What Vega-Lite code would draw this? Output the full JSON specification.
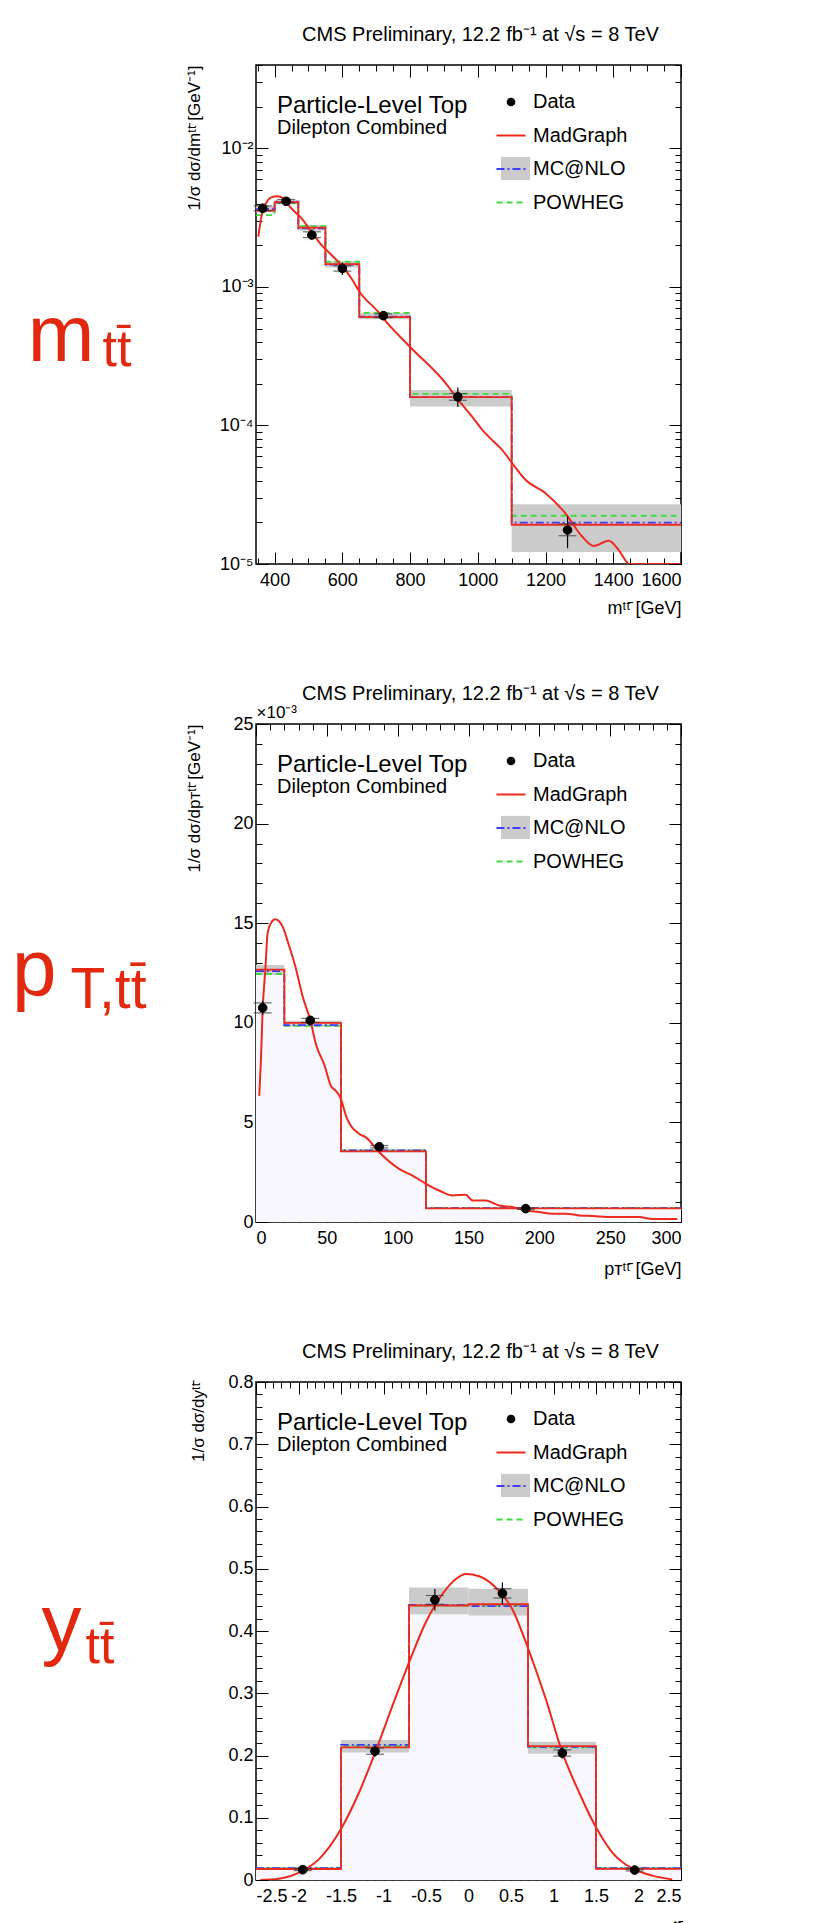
{
"$schema":"https://vega.github.io/schema/vega-lite/v6.json",
"padding":{"left":10,"top":23,"right":0,"bottom":0},
"config":{"view":{"stroke":"black","strokeWidth":1.5},"font":"Liberation Sans",
"axis":{"grid":false,"domain":false,"labelFont":"Liberation Sans","labelFontSize":18,"labelColor":"black","tickColor":"black","tickWidth":1,"titleFont":"Liberation Sans","titleFontWeight":"normal","titleColor":"black"}},
"datasets":{
"m_hist":[
{"lo":345,"hi":400,"mad":0.00355,"mc":0.00364,"pow":0.0033,"bLo":0.00345,"bHi":0.00385},
{"lo":400,"hi":470,"mad":0.0041,"mc":0.00412,"pow":0.00405,"bLo":0.00395,"bHi":0.00425},
{"lo":470,"hi":550,"mad":0.00268,"mc":0.00265,"pow":0.00275,"bLo":0.00255,"bHi":0.0028},
{"lo":550,"hi":650,"mad":0.00146,"mc":0.00145,"pow":0.00152,"bLo":0.00138,"bHi":0.00153},
{"lo":650,"hi":800,"mad":0.000606,"mc":0.00061,"pow":0.00065,"bLo":0.000585,"bHi":0.00065},
{"lo":800,"hi":1100,"mad":0.00016,"mc":0.00016,"pow":0.000169,"bLo":0.000137,"bHi":0.00018},
{"lo":1100,"hi":1600,"mad":0.0000192,"mc":0.0000199,"pow":0.0000223,"bLo":0.0000122,"bHi":0.000027},
{"lo":1600,"hi":null,"mad":0.0000192,"mc":0.0000199,"pow":0.0000223,"bLo":null,"bHi":null}],
"m_pts":[
{"x":365,"y":0.0037,"lo":0.00345,"hi":0.00395,"sLo":0.00355,"sHi":0.00385},
{"x":434,"y":0.00415,"lo":0.0039,"hi":0.0044,"sLo":0.00402,"sHi":0.00428},
{"x":510,"y":0.00237,"lo":0.0022,"hi":0.0026,"sLo":0.00227,"sHi":0.0025},
{"x":600,"y":0.00136,"lo":0.00122,"hi":0.0015,"sLo":0.0013,"sHi":0.00142},
{"x":721,"y":0.00062,"lo":0.00058,"hi":0.00066,"sLo":0.0006,"sHi":0.00064},
{"x":941,"y":0.000161,"lo":0.000136,"hi":0.000188,"sLo":0.000152,"sHi":0.00017},
{"x":1265,"y":0.0000176,"lo":0.000013,"hi":0.000022,"sLo":0.000016,"sHi":0.0000195}],
"m_curve":[
{"x":352,"y":0.00231},{"x":360,"y":0.00314},{"x":375,"y":0.00403},{"x":390,"y":0.00443},{"x":408,"y":0.00452},{"x":425,"y":0.00438},{"x":449,"y":0.0037},{"x":479,"y":0.00314},{"x":508,"y":0.00251},{"x":538,"y":0.00201},{"x":568,"y":0.0017},{"x":597,"y":0.00144},{"x":627,"y":0.00115},{"x":651,"y":0.00092},{"x":706,"y":0.00066},{"x":726,"y":0.000574},{"x":801,"y":0.000367},{"x":903,"y":0.000205},{"x":952,"y":0.000143},{"x":982,"y":0.000117},{"x":1010,"y":0.000095},{"x":1041,"y":0.000079},{"x":1071,"y":0.000067},{"x":1100,"y":0.000054},{"x":1140,"y":0.0000407},{"x":1199,"y":0.0000326},{"x":1258,"y":0.0000233},{"x":1308,"y":0.0000158},{"x":1342,"y":0.0000135},{"x":1387,"y":0.0000147},{"x":1416,"y":0.0000126},{"x":1448,"y":0.00001},{"x":1600,"y":0.00001}],
"pt_hist":[
{"lo":0,"hi":20,"mad":0.01267,"mc":0.0126,"pow":0.01245,"bLo":0.0124,"bHi":0.0129},
{"lo":20,"hi":60,"mad":0.01,"mc":0.00988,"pow":0.00985,"bLo":0.0098,"bHi":0.0101},
{"lo":60,"hi":120,"mad":0.00355,"mc":0.0036,"pow":0.0036,"bLo":0.0035,"bHi":0.00365},
{"lo":120,"hi":300,"mad":0.00068,"mc":0.0007,"pow":0.00071,"bLo":0.00066,"bHi":0.00072},
{"lo":300,"hi":null,"mad":0.00068,"mc":0.0007,"pow":0.00071,"bLo":null,"bHi":null}],
"pt_pts":[
{"x":4.7,"y":0.01075,"lo":0.0104,"hi":0.0111,"sLo":0.0105,"sHi":0.011},
{"x":38.3,"y":0.01012,"lo":0.0099,"hi":0.01035,"sLo":0.01002,"sHi":0.01022},
{"x":87,"y":0.00378,"lo":0.00366,"hi":0.0039,"sLo":0.00372,"sHi":0.00384},
{"x":190.4,"y":0.00067,"lo":0.00062,"hi":0.00072,"sLo":0.00064,"sHi":0.0007}],
"pt_curve":[
{"x":2.3,"y":0.00633},{"x":3.5,"y":0.00817},{"x":4.7,"y":0.01067},{"x":6.6,"y":0.01267},{"x":8.2,"y":0.0145},{"x":10.5,"y":0.015},{"x":13.6,"y":0.0152},{"x":18.8,"y":0.01483},{"x":23.5,"y":0.01383},{"x":27.5,"y":0.0129},{"x":32.9,"y":0.01133},{"x":38.8,"y":0.01},{"x":42.3,"y":0.00892},{"x":48.2,"y":0.0079},{"x":52.9,"y":0.00683},{"x":56.4,"y":0.00658},{"x":60,"y":0.00617},{"x":63.5,"y":0.00533},{"x":72.9,"y":0.00442},{"x":77.6,"y":0.00425},{"x":87,"y":0.0035},{"x":101,"y":0.00267},{"x":110.5,"y":0.00233},{"x":120,"y":0.00192},{"x":129.3,"y":0.00158},{"x":138.7,"y":0.00133},{"x":148.1,"y":0.00137},{"x":152.8,"y":0.00108},{"x":162.2,"y":0.00108},{"x":171.6,"y":0.00083},{"x":181,"y":0.00075},{"x":190.4,"y":0.00058},{"x":199.8,"y":0.0005},{"x":209.2,"y":0.00042},{"x":218.6,"y":0.00042},{"x":228,"y":0.00033},{"x":237.5,"y":0.0003},{"x":251.5,"y":0.00025},{"x":270.4,"y":0.00025},{"x":279.8,"y":0.00015},{"x":297.4,"y":0.00015}],
"y_hist":[
{"lo":-2.5,"hi":-1.5,"mad":0.0177,"mc":0.019,"pow":0.019,"bLo":0.016,"bHi":0.021},
{"lo":-1.5,"hi":-0.7,"mad":0.213,"mc":0.217,"pow":0.215,"bLo":0.205,"bHi":0.225},
{"lo":-0.7,"hi":0,"mad":0.441,"mc":0.442,"pow":0.441,"bLo":0.427,"bHi":0.47},
{"lo":0,"hi":0.7,"mad":0.443,"mc":0.44,"pow":0.441,"bLo":0.425,"bHi":0.468},
{"lo":0.7,"hi":1.5,"mad":0.215,"mc":0.214,"pow":0.213,"bLo":0.203,"bHi":0.222},
{"lo":1.5,"hi":2.5,"mad":0.018,"mc":0.019,"pow":0.019,"bLo":0.016,"bHi":0.021},
{"lo":2.5,"hi":null,"mad":0.018,"mc":0.019,"pow":0.019,"bLo":null,"bHi":null}],
"y_pts":[
{"x":-1.95,"y":0.0166,"lo":0.0136,"hi":0.0196,"sLo":0.0151,"sHi":0.0181},
{"x":-1.1,"y":0.207,"lo":0.198,"hi":0.216,"sLo":0.202,"sHi":0.212},
{"x":-0.396,"y":0.45,"lo":0.433,"hi":0.4675,"sLo":0.443,"sHi":0.457},
{"x":0.399,"y":0.4605,"lo":0.442,"hi":0.478,"sLo":0.453,"sHi":0.468},
{"x":1.104,"y":0.204,"lo":0.195,"hi":0.213,"sLo":0.199,"sHi":0.209},
{"x":1.955,"y":0.016,"lo":0.013,"hi":0.019,"sLo":0.0145,"sHi":0.0175}],
"y_curve":[
{"x":-2.45,"y":0.0},{"x":-2.23,"y":0.002},{"x":-1.95,"y":0.015},{"x":-1.756,"y":0.034},{"x":-1.5,"y":0.082},{"x":-1.286,"y":0.141},{"x":-1.09,"y":0.2077},{"x":-0.894,"y":0.28},{"x":-0.698,"y":0.35},{"x":-0.502,"y":0.414},{"x":-0.306,"y":0.4594},{"x":-0.149,"y":0.4835},{"x":-0.031,"y":0.4916},{"x":0.125,"y":0.488},{"x":0.32,"y":0.47},{"x":0.516,"y":0.435},{"x":0.704,"y":0.371},{"x":0.909,"y":0.291},{"x":1.104,"y":0.205},{"x":1.3,"y":0.141},{"x":1.5,"y":0.0847},{"x":1.69,"y":0.0445},{"x":1.96,"y":0.0166},{"x":2.162,"y":0.007},{"x":2.397,"y":0.001}]
},
"bounds":"flush","spacing":160,
"resolve":{"scale":{"color":"independent","fill":"independent","stroke":"independent"}},
"vconcat":[
{"width":425,"height":499,
"resolve":{"axis":{"x":"independent","y":"independent"}},
"layer":[
{"data":{"name":"m_hist"},"mark":{"type":"area","interpolate":"step-after","clip":true},
"encoding":{
"x":{"field":"lo","type":"quantitative","scale":{"domain":[345,1600],"nice":false,"zero":false},"axis":{"orient":"bottom","values":[400,600,800,1000,1200,1400,1600],"format":"d","tickSize":-12,"labelPadding":19,"title":"mᵗᵗ̄ [GeV]","titleFontSize":18,"titleX":425,"titleY":49,"titleAlign":"right","titleBaseline":"alphabetic"}},
"y":{"field":"mad","type":"quantitative","scale":{"type":"log","domain":[0.00001,0.04],"nice":false},"axis":{"orient":"left","values":[0.00001,0.0001,0.001,0.01],"tickSize":-12,"labelPadding":15,"labelExpr":"'10' + (datum.value < 0.00005 ? '⁻⁵' : datum.value < 0.0005 ? '⁻⁴' : datum.value < 0.005 ? '⁻³' : '⁻²')","title":"1/σ dσ/dmᵗᵗ̄ [GeV⁻¹]","titleFontSize":17,"titleX":-62,"titleY":0,"titleAngle":-90,"titleAlign":"right","titleBaseline":"middle"}},
"color":{"datum":"Dilepton Combined","scale":{"range":["#f7f7fd"]},"legend":{"orient":"none","legendX":21,"legendY":29,"title":"Particle-Level Top","titleFontSize":24,"titleFont":"Liberation Sans","titleFontWeight":"normal","titleColor":"black","titleLimit":500,"titlePadding":0,"labelFontSize":20,"labelFont":"Liberation Sans","labelColor":"black","labelLimit":500,"labelOffset":-20,"symbolSize":0,"symbolOpacity":0,"padding":0}}}},
{"data":{"name":"m_hist"},"transform":[{"filter":"datum.hi != null"}],"mark":{"type":"rect"},
"encoding":{
"x":{"field":"lo","type":"quantitative","axis":{"orient":"bottom","values":[350,450,500,550,650,700,750,850,900,950,1050,1100,1150,1250,1300,1350,1450,1500,1550],"tickSize":-6,"labels":false,"title":null}},
"x2":{"field":"hi"},
"y":{"field":"bLo","type":"quantitative","axis":{"orient":"left","values":[0.00002,0.00003,0.00004,0.00005,0.00006,0.00007,0.00008,0.00009,0.0002,0.0003,0.0004,0.0005,0.0006,0.0007,0.0008,0.0009,0.002,0.003,0.004,0.005,0.006,0.007,0.008,0.009,0.02,0.03,0.04],"tickSize":-6,"labels":false,"title":null}},
"y2":{"field":"bHi"},
"fill":{"datum":"MC@NLO","scale":{"range":["#cbcbcb"]},"legend":{"orient":"none","legendX":245,"legendY":89,"title":null,"symbolType":"M-1,-0.8H1V0.8H-1Z","symbolSize":841,"symbolStrokeWidth":0,"labelExpr":"''","padding":0}}}},
{"data":{"name":"m_hist"},"mark":{"type":"line","interpolate":"step-after","strokeDash":[6,4],"strokeWidth":1.8,"clip":true},
"encoding":{
"x":{"field":"lo","type":"quantitative","axis":{"orient":"top","values":[400,600,800,1000,1200,1400,1600],"tickSize":-12,"labels":false,"title":"CMS Preliminary, 12.2 fb⁻¹ at √s =  8 TeV","titleFontSize":20,"titleX":224,"titleY":-25,"titleAlign":"center","titleBaseline":"alphabetic"}},
"y":{"field":"pow","type":"quantitative","axis":{"orient":"right","values":[0.00001,0.0001,0.001,0.01],"tickSize":-12,"labels":false,"title":null}},
"stroke":{"datum":"POWHEG","scale":{"domain":["Data","MadGraph","MC@NLO","POWHEG"],"range":["black","#ee2a1f","#3b3bff","#3fdc3f"]},"legend":{"orient":"none","legendX":245,"legendY":27,"title":null,"labelFontSize":20,"labelFont":"Liberation Sans","labelColor":"black","labelOffset":12,"labelLimit":300,"symbolSize":841,"symbolStrokeWidth":2,"rowPadding":13.5,"padding":0,
"encode":{"symbols":{"update":{"shape":{"signal":"datum.value === 'Data' ? 'circle' : 'stroke'"},"size":{"signal":"datum.value === 'Data' ? 75 : 841"},"fill":{"signal":"datum.value === 'Data' ? 'black' : 'transparent'"},"stroke":{"signal":"datum.value === 'Data' ? 'black' : datum.value === 'MadGraph' ? '#ee2a1f' : datum.value === 'MC@NLO' ? '#3b3bff' : '#3fdc3f'"},"strokeWidth":{"signal":"datum.value === 'Data' ? 0 : 2"},"strokeDash":{"signal":"datum.value === 'POWHEG' ? [6,4] : datum.value === 'MC@NLO' ? [8,3,2,3] : [1,0]"},"opacity":{"value":1}}}}}}}},
{"data":{"name":"m_hist"},"mark":{"type":"line","interpolate":"step-after","strokeDash":[8,3,2,3],"strokeWidth":1.8,"clip":true},
"encoding":{
"x":{"field":"lo","type":"quantitative","axis":{"orient":"top","values":[350,450,500,550,650,700,750,850,900,950,1050,1100,1150,1250,1300,1350,1450,1500,1550],"tickSize":-6,"labels":false,"title":null}},
"y":{"field":"mc","type":"quantitative","axis":{"orient":"right","values":[0.00002,0.00003,0.00004,0.00005,0.00006,0.00007,0.00008,0.00009,0.0002,0.0003,0.0004,0.0005,0.0006,0.0007,0.0008,0.0009,0.002,0.003,0.004,0.005,0.006,0.007,0.008,0.009,0.02,0.03,0.04],"tickSize":-6,"labels":false,"title":null}},
"stroke":{"datum":"MC@NLO"}}},
{"data":{"name":"m_hist"},"mark":{"type":"line","interpolate":"step-after","strokeWidth":1.8,"clip":true},
"encoding":{"x":{"field":"lo","type":"quantitative","axis":null},"y":{"field":"mad","type":"quantitative","axis":{"orient":"left","ticks":false,"labels":false,"title":"m","titleFontSize":80,"titleColor":"#e2290f","titleAngle":0,"titleX":-162,"titleY":295,"titleAlign":"right","titleBaseline":"alphabetic"}},"stroke":{"datum":"MadGraph"}}},
{"data":{"name":"m_curve"},"mark":{"type":"line","interpolate":"monotone","strokeWidth":2,"clip":true},
"encoding":{"x":{"field":"x","type":"quantitative","axis":null},"y":{"field":"y","type":"quantitative","axis":{"orient":"left","ticks":false,"labels":false,"title":"tt̄","titleFontSize":52,"titleColor":"#e2290f","titleAngle":0,"titleX":-125,"titleY":300,"titleAlign":"right","titleBaseline":"alphabetic"}},"stroke":{"datum":"MadGraph"}}},
{"data":{"name":"m_pts"},"mark":{"type":"rule","color":"black","strokeWidth":1.2},
"encoding":{"x":{"field":"x","type":"quantitative","axis":null},"y":{"field":"lo","type":"quantitative","axis":null},"y2":{"field":"hi"}}},
{"data":{"name":"m_pts"},"mark":{"type":"tick","orient":"horizontal","size":18,"thickness":1.2,"color":"#333333"},
"encoding":{"x":{"field":"x","type":"quantitative","axis":null},"y":{"field":"sLo","type":"quantitative","axis":null}}},
{"data":{"name":"m_pts"},"mark":{"type":"tick","orient":"horizontal","size":18,"thickness":1.2,"color":"#333333"},
"encoding":{"x":{"field":"x","type":"quantitative","axis":null},"y":{"field":"sHi","type":"quantitative","axis":null}}},
{"data":{"name":"m_pts"},"mark":{"type":"point","filled":true,"size":75,"fill":"black","strokeWidth":1,"opacity":1},
"encoding":{"x":{"field":"x","type":"quantitative","axis":null},"y":{"field":"y","type":"quantitative","axis":null},"stroke":{"datum":"Data"}}}
]},
{"width":425,"height":498,
"resolve":{"axis":{"x":"independent","y":"independent"}},
"layer":[
{"data":{"name":"pt_hist"},"mark":{"type":"area","interpolate":"step-after","clip":true},
"encoding":{
"x":{"field":"lo","type":"quantitative","scale":{"domain":[0,300],"nice":false},"axis":{"orient":"bottom","values":[0,50,100,150,200,250,300],"format":"d","tickSize":-12,"labelPadding":19,"title":"pᴛᵗᵗ̄ [GeV]","titleFontSize":18,"titleX":425,"titleY":52,"titleAlign":"right","titleBaseline":"alphabetic"}},
"y":{"field":"mad","type":"quantitative","scale":{"domain":[0,0.025],"nice":false},"axis":{"orient":"left","values":[0,0.005,0.01,0.015,0.02,0.025],"tickSize":-12,"labelPadding":15,"labelExpr":"format(datum.value*1000, 'd')","title":"1/σ dσ/dpᴛᵗᵗ̄ [GeV⁻¹]","titleFontSize":17,"titleX":-62,"titleY":0,"titleAngle":-90,"titleAlign":"right","titleBaseline":"middle"}},
"color":{"datum":"Dilepton Combined","scale":{"range":["#f7f7fd"]},"legend":{"orient":"none","legendX":21,"legendY":29,"title":"Particle-Level Top","titleFontSize":24,"titleFont":"Liberation Sans","titleFontWeight":"normal","titleColor":"black","titleLimit":500,"titlePadding":0,"labelFontSize":20,"labelFont":"Liberation Sans","labelColor":"black","labelLimit":500,"labelOffset":-20,"symbolSize":0,"symbolOpacity":0,"padding":0}}}},
{"data":{"name":"pt_hist"},"transform":[{"filter":"datum.hi != null"}],"mark":{"type":"rect"},
"encoding":{
"x":{"field":"lo","type":"quantitative","axis":{"orient":"bottom","values":[10,20,30,40,60,70,80,90,110,120,130,140,160,170,180,190,210,220,230,240,260,270,280,290],"tickSize":-6,"labels":false,"title":null}},
"x2":{"field":"hi"},
"y":{"field":"bLo","type":"quantitative","axis":{"orient":"left","values":[0.001,0.002,0.003,0.004,0.006,0.007,0.008,0.009,0.011,0.012,0.013,0.014,0.016,0.017,0.018,0.019,0.021,0.022,0.023,0.024],"tickSize":-6,"labels":false,"title":null}},
"y2":{"field":"bHi"},
"fill":{"datum":"MC@NLO","scale":{"range":["#cbcbcb"]},"legend":{"orient":"none","legendX":245,"legendY":89,"title":null,"symbolType":"M-1,-0.8H1V0.8H-1Z","symbolSize":841,"symbolStrokeWidth":0,"labelExpr":"''","padding":0}}}},
{"data":{"name":"pt_hist"},"mark":{"type":"line","interpolate":"step-after","strokeDash":[6,4],"strokeWidth":1.8,"clip":true},
"encoding":{
"x":{"field":"lo","type":"quantitative","axis":{"orient":"top","values":[0,50,100,150,200,250,300],"tickSize":-12,"labels":false,"title":"CMS Preliminary, 12.2 fb⁻¹ at √s =  8 TeV","titleFontSize":20,"titleX":224,"titleY":-25,"titleAlign":"center","titleBaseline":"alphabetic"}},
"y":{"field":"pow","type":"quantitative","axis":{"orient":"right","values":[0,0.005,0.01,0.015,0.02,0.025],"tickSize":-12,"labels":false,"title":"×10⁻³","titleFontSize":17,"titleAngle":0,"titleX":-425,"titleY":-3,"titleAlign":"left","titleBaseline":"bottom"}},
"stroke":{"datum":"POWHEG","scale":{"domain":["Data","MadGraph","MC@NLO","POWHEG"],"range":["black","#ee2a1f","#3b3bff","#3fdc3f"]},"legend":{"orient":"none","legendX":245,"legendY":27,"title":null,"labelFontSize":20,"labelFont":"Liberation Sans","labelColor":"black","labelOffset":12,"labelLimit":300,"symbolSize":841,"symbolStrokeWidth":2,"rowPadding":13.5,"padding":0,
"encode":{"symbols":{"update":{"shape":{"signal":"datum.value === 'Data' ? 'circle' : 'stroke'"},"size":{"signal":"datum.value === 'Data' ? 75 : 841"},"fill":{"signal":"datum.value === 'Data' ? 'black' : 'transparent'"},"stroke":{"signal":"datum.value === 'Data' ? 'black' : datum.value === 'MadGraph' ? '#ee2a1f' : datum.value === 'MC@NLO' ? '#3b3bff' : '#3fdc3f'"},"strokeWidth":{"signal":"datum.value === 'Data' ? 0 : 2"},"strokeDash":{"signal":"datum.value === 'POWHEG' ? [6,4] : datum.value === 'MC@NLO' ? [8,3,2,3] : [1,0]"},"opacity":{"value":1}}}}}}}},
{"data":{"name":"pt_hist"},"mark":{"type":"line","interpolate":"step-after","strokeDash":[8,3,2,3],"strokeWidth":1.8,"clip":true},
"encoding":{
"x":{"field":"lo","type":"quantitative","axis":{"orient":"top","values":[10,20,30,40,60,70,80,90,110,120,130,140,160,170,180,190,210,220,230,240,260,270,280,290],"tickSize":-6,"labels":false,"title":null}},
"y":{"field":"mc","type":"quantitative","axis":{"orient":"right","values":[0.001,0.002,0.003,0.004,0.006,0.007,0.008,0.009,0.011,0.012,0.013,0.014,0.016,0.017,0.018,0.019,0.021,0.022,0.023,0.024],"tickSize":-6,"labels":false,"title":null}},
"stroke":{"datum":"MC@NLO"}}},
{"data":{"name":"pt_hist"},"mark":{"type":"line","interpolate":"step-after","strokeWidth":1.8,"clip":true},
"encoding":{"x":{"field":"lo","type":"quantitative","axis":null},"y":{"field":"mad","type":"quantitative","axis":{"orient":"left","ticks":false,"labels":false,"title":"p","titleFontSize":80,"titleColor":"#e2290f","titleAngle":0,"titleX":-200,"titleY":270,"titleAlign":"right","titleBaseline":"alphabetic"}},"stroke":{"datum":"MadGraph"}}},
{"data":{"name":"pt_curve"},"mark":{"type":"line","interpolate":"monotone","strokeWidth":2,"clip":true},
"encoding":{"x":{"field":"x","type":"quantitative","axis":null},"y":{"field":"y","type":"quantitative","axis":{"orient":"left","ticks":false,"labels":false,"title":"T,tt̄","titleFontSize":57,"titleColor":"#e2290f","titleAngle":0,"titleX":-110,"titleY":283,"titleAlign":"right","titleBaseline":"alphabetic"}},"stroke":{"datum":"MadGraph"}}},
{"data":{"name":"pt_pts"},"mark":{"type":"rule","color":"black","strokeWidth":1.2},
"encoding":{"x":{"field":"x","type":"quantitative","axis":null},"y":{"field":"lo","type":"quantitative","axis":null},"y2":{"field":"hi"}}},
{"data":{"name":"pt_pts"},"mark":{"type":"tick","orient":"horizontal","size":18,"thickness":1.2,"color":"#333333"},
"encoding":{"x":{"field":"x","type":"quantitative","axis":null},"y":{"field":"sLo","type":"quantitative","axis":null}}},
{"data":{"name":"pt_pts"},"mark":{"type":"tick","orient":"horizontal","size":18,"thickness":1.2,"color":"#333333"},
"encoding":{"x":{"field":"x","type":"quantitative","axis":null},"y":{"field":"sHi","type":"quantitative","axis":null}}},
{"data":{"name":"pt_pts"},"mark":{"type":"point","filled":true,"size":75,"fill":"black","strokeWidth":1,"opacity":1},
"encoding":{"x":{"field":"x","type":"quantitative","axis":null},"y":{"field":"y","type":"quantitative","axis":null},"stroke":{"datum":"Data"}}}
]},
{"width":425,"height":498,
"resolve":{"axis":{"x":"independent","y":"independent"}},
"layer":[
{"data":{"name":"y_hist"},"mark":{"type":"area","interpolate":"step-after","clip":true},
"encoding":{
"x":{"field":"lo","type":"quantitative","scale":{"domain":[-2.5,2.5],"nice":false},"axis":{"orient":"bottom","values":[-2.5,-2,-1.5,-1,-0.5,0,0.5,1,1.5,2,2.5],"labelExpr":"(datum.value < 0 ? '-' : '') + abs(datum.value)","tickSize":-12,"labelPadding":19,"title":"yᵗᵗ̄","titleFontSize":18,"titleX":425,"titleY":52,"titleAlign":"right","titleBaseline":"alphabetic"}},
"y":{"field":"mad","type":"quantitative","scale":{"domain":[0,0.8],"nice":false},"axis":{"orient":"left","values":[0,0.1,0.2,0.3,0.4,0.5,0.6,0.7,0.8],"tickSize":-12,"labelPadding":15,"labelExpr":"datum.value == 0 ? '0' : format(datum.value, '.1f')","title":"1/σ dσ/dyᵗᵗ̄","titleFontSize":17,"titleX":-58,"titleY":0,"titleAngle":-90,"titleAlign":"right","titleBaseline":"middle"}},
"color":{"datum":"Dilepton Combined","scale":{"range":["#f7f7fd"]},"legend":{"orient":"none","legendX":21,"legendY":29,"title":"Particle-Level Top","titleFontSize":24,"titleFont":"Liberation Sans","titleFontWeight":"normal","titleColor":"black","titleLimit":500,"titlePadding":0,"labelFontSize":20,"labelFont":"Liberation Sans","labelColor":"black","labelLimit":500,"labelOffset":-20,"symbolSize":0,"symbolOpacity":0,"padding":0}}}},
{"data":{"name":"y_hist"},"transform":[{"filter":"datum.hi != null"}],"mark":{"type":"rect"},
"encoding":{
"x":{"field":"lo","type":"quantitative","axis":{"orient":"bottom","values":[-2.4,-2.3,-2.2,-2.1,-1.9,-1.8,-1.7,-1.6,-1.4,-1.3,-1.2,-1.1,-0.9,-0.8,-0.7,-0.6,-0.4,-0.3,-0.2,-0.1,0.1,0.2,0.3,0.4,0.6,0.7,0.8,0.9,1.1,1.2,1.3,1.4,1.6,1.7,1.8,1.9,2.1,2.2,2.3,2.4],"tickSize":-6,"labels":false,"title":null}},
"x2":{"field":"hi"},
"y":{"field":"bLo","type":"quantitative","axis":{"orient":"left","values":[0.02,0.04,0.06,0.08,0.12,0.14,0.16,0.18,0.22,0.24,0.26,0.28,0.32,0.34,0.36,0.38,0.42,0.44,0.46,0.48,0.52,0.54,0.56,0.58,0.62,0.64,0.66,0.68,0.72,0.74,0.76,0.78],"tickSize":-6,"labels":false,"title":null}},
"y2":{"field":"bHi"},
"fill":{"datum":"MC@NLO","scale":{"range":["#cbcbcb"]},"legend":{"orient":"none","legendX":245,"legendY":89,"title":null,"symbolType":"M-1,-0.8H1V0.8H-1Z","symbolSize":841,"symbolStrokeWidth":0,"labelExpr":"''","padding":0}}}},
{"data":{"name":"y_hist"},"mark":{"type":"line","interpolate":"step-after","strokeDash":[6,4],"strokeWidth":1.8,"clip":true},
"encoding":{
"x":{"field":"lo","type":"quantitative","axis":{"orient":"top","values":[-2.5,-2,-1.5,-1,-0.5,0,0.5,1,1.5,2,2.5],"tickSize":-12,"labels":false,"title":"CMS Preliminary, 12.2 fb⁻¹ at √s =  8 TeV","titleFontSize":20,"titleX":224,"titleY":-25,"titleAlign":"center","titleBaseline":"alphabetic"}},
"y":{"field":"pow","type":"quantitative","axis":{"orient":"right","values":[0,0.1,0.2,0.3,0.4,0.5,0.6,0.7,0.8],"tickSize":-12,"labels":false,"title":null}},
"stroke":{"datum":"POWHEG","scale":{"domain":["Data","MadGraph","MC@NLO","POWHEG"],"range":["black","#ee2a1f","#3b3bff","#3fdc3f"]},"legend":{"orient":"none","legendX":245,"legendY":27,"title":null,"labelFontSize":20,"labelFont":"Liberation Sans","labelColor":"black","labelOffset":12,"labelLimit":300,"symbolSize":841,"symbolStrokeWidth":2,"rowPadding":13.5,"padding":0,
"encode":{"symbols":{"update":{"shape":{"signal":"datum.value === 'Data' ? 'circle' : 'stroke'"},"size":{"signal":"datum.value === 'Data' ? 75 : 841"},"fill":{"signal":"datum.value === 'Data' ? 'black' : 'transparent'"},"stroke":{"signal":"datum.value === 'Data' ? 'black' : datum.value === 'MadGraph' ? '#ee2a1f' : datum.value === 'MC@NLO' ? '#3b3bff' : '#3fdc3f'"},"strokeWidth":{"signal":"datum.value === 'Data' ? 0 : 2"},"strokeDash":{"signal":"datum.value === 'POWHEG' ? [6,4] : datum.value === 'MC@NLO' ? [8,3,2,3] : [1,0]"},"opacity":{"value":1}}}}}}}},
{"data":{"name":"y_hist"},"mark":{"type":"line","interpolate":"step-after","strokeDash":[8,3,2,3],"strokeWidth":1.8,"clip":true},
"encoding":{
"x":{"field":"lo","type":"quantitative","axis":{"orient":"top","values":[-2.4,-2.3,-2.2,-2.1,-1.9,-1.8,-1.7,-1.6,-1.4,-1.3,-1.2,-1.1,-0.9,-0.8,-0.7,-0.6,-0.4,-0.3,-0.2,-0.1,0.1,0.2,0.3,0.4,0.6,0.7,0.8,0.9,1.1,1.2,1.3,1.4,1.6,1.7,1.8,1.9,2.1,2.2,2.3,2.4],"tickSize":-6,"labels":false,"title":null}},
"y":{"field":"mc","type":"quantitative","axis":{"orient":"right","values":[0.02,0.04,0.06,0.08,0.12,0.14,0.16,0.18,0.22,0.24,0.26,0.28,0.32,0.34,0.36,0.38,0.42,0.44,0.46,0.48,0.52,0.54,0.56,0.58,0.62,0.64,0.66,0.68,0.72,0.74,0.76,0.78],"tickSize":-6,"labels":false,"title":null}},
"stroke":{"datum":"MC@NLO"}}},
{"data":{"name":"y_hist"},"mark":{"type":"line","interpolate":"step-after","strokeWidth":1.8,"clip":true},
"encoding":{"x":{"field":"lo","type":"quantitative","axis":null},"y":{"field":"mad","type":"quantitative","axis":{"orient":"left","ticks":false,"labels":false,"title":"y","titleFontSize":80,"titleColor":"#e2290f","titleAngle":0,"titleX":-175,"titleY":267,"titleAlign":"right","titleBaseline":"alphabetic"}},"stroke":{"datum":"MadGraph"}}},
{"data":{"name":"y_curve"},"mark":{"type":"line","interpolate":"monotone","strokeWidth":2,"clip":true},
"encoding":{"x":{"field":"x","type":"quantitative","axis":null},"y":{"field":"y","type":"quantitative","axis":{"orient":"left","ticks":false,"labels":false,"title":"tt̄","titleFontSize":52,"titleColor":"#e2290f","titleAngle":0,"titleX":-142,"titleY":280,"titleAlign":"right","titleBaseline":"alphabetic"}},"stroke":{"datum":"MadGraph"}}},
{"data":{"name":"y_pts"},"mark":{"type":"rule","color":"black","strokeWidth":1.2},
"encoding":{"x":{"field":"x","type":"quantitative","axis":null},"y":{"field":"lo","type":"quantitative","axis":null},"y2":{"field":"hi"}}},
{"data":{"name":"y_pts"},"mark":{"type":"tick","orient":"horizontal","size":18,"thickness":1.2,"color":"#333333"},
"encoding":{"x":{"field":"x","type":"quantitative","axis":null},"y":{"field":"sLo","type":"quantitative","axis":null}}},
{"data":{"name":"y_pts"},"mark":{"type":"tick","orient":"horizontal","size":18,"thickness":1.2,"color":"#333333"},
"encoding":{"x":{"field":"x","type":"quantitative","axis":null},"y":{"field":"sHi","type":"quantitative","axis":null}}},
{"data":{"name":"y_pts"},"mark":{"type":"point","filled":true,"size":75,"fill":"black","strokeWidth":1,"opacity":1},
"encoding":{"x":{"field":"x","type":"quantitative","axis":null},"y":{"field":"y","type":"quantitative","axis":null},"stroke":{"datum":"Data"}}}
]}
]
}
